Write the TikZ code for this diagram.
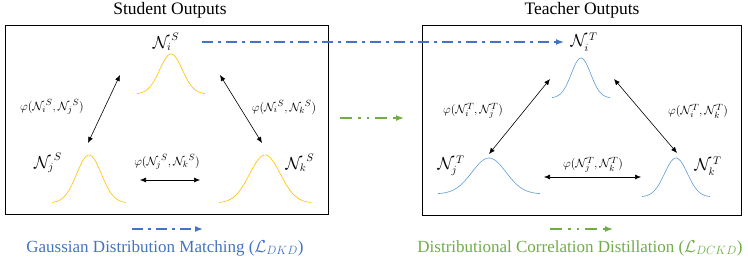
\documentclass[tikz,border=0pt]{standalone}
\usepackage{fontspec}
\setmainfont{Liberation Serif}
\usetikzlibrary{arrows.meta}
\definecolor{lblue}{HTML}{4472C4}
\definecolor{lgreen}{HTML}{70AD47}
\definecolor{corange}{HTML}{FFC000}
\definecolor{cblue}{HTML}{5B9BD5}
\newcommand\gausscurve[6]{% cx, halfwidth, peaky, basey, color
  \draw[#5,line width=0.6pt] plot[domain=-3:3,samples=60,smooth] ({#1+#2*\x/3},{#4-(#4-#3)*exp(-\x*\x/2)+#6});}
\tikzset{
  boxst/.style={draw,line width=1.2pt},
  titlest/.style={font=\fontsize{17.5}{20}\selectfont},
  legst/.style={font=\fontsize{17}{20}\selectfont,inner sep=0pt},
  lblst/.style={font=\fontsize{16}{19}\selectfont,inner sep=0pt},
  philbl/.style={font=\fontsize{12.5}{15}\selectfont,inner sep=0pt},
  rel/.style={{Latex[length=6pt,width=5pt]}-{Latex[length=6pt,width=5pt]},line width=0.6pt},
  bluearr/.style={-{Latex[length=8pt,width=6pt]},lblue,line width=1.5pt,dash pattern=on 11pt off 5pt on 3pt off 5pt},
  greenarr/.style={-{Latex[length=8pt,width=6pt]},lgreen,line width=1.5pt,dash pattern=on 12pt off 6pt on 2.5pt off 6pt on 2.5pt off 6pt},
}
\begin{document}
\begin{tikzpicture}[x=1pt,y=-1pt]
\useasboundingbox (0,0) rectangle (748,265);
% boxes
\node[boxst,minimum width=323pt,minimum height=189pt,inner sep=0pt,anchor=north west] (sbox) at (5,25) {};
\node[boxst,minimum width=319pt,minimum height=190pt,inner sep=0pt,anchor=north west] (tbox) at (422,25) {};
\node[titlest] (stitle) at (170,10) {Student Outputs};
\node[titlest] (ttitle) at (582,10) {Teacher Outputs};
% student curves
\gausscurve{171}{34}{54}{94}{corange}{0}
\gausscurve{89}{37}{155}{203}{corange}{0}
\gausscurve{265}{46}{155}{203}{corange}{0}
% teacher curves
\gausscurve{581}{29}{58}{98}{cblue}{0}
\gausscurve{489}{51}{158}{194}{cblue}{0}
\gausscurve{676}{34}{158}{197}{cblue}{0}
% labels
\node[lblst] (nis) at (166,42) {${\mathcal{N}_i}^{S}$};
\node[lblst] (njs) at (48,163) {${\mathcal{N}_j}^{S}$};
\node[lblst] (nks) at (300,163) {${\mathcal{N}_k}^{S}$};
\node[lblst] (nit) at (584,42) {$\mathcal{N}_i^{\,T}$};
\node[lblst] (njt) at (451,166) {$\mathcal{N}_j^{\,T}$};
\node[lblst] (nkt) at (708,166) {$\mathcal{N}_k^{\,T}$};
\node[philbl] (pijs) at (52,107) {$\varphi({\mathcal{N}_i}^{S},{\mathcal{N}_j}^{S})$};
\node[philbl] (piks) at (284,107) {$\varphi({\mathcal{N}_i}^{S},{\mathcal{N}_k}^{S})$};
\node[philbl] (pjks) at (167,162) {$\varphi({\mathcal{N}_j}^{S},{\mathcal{N}_k}^{S})$};
\node[philbl] (pijt) at (473,111) {$\varphi(\mathcal{N}_i^{T},\mathcal{N}_j^{T})$};
\node[philbl] (pikt) at (698,111) {$\varphi(\mathcal{N}_i^{T},\mathcal{N}_k^{T})$};
\node[philbl] (pjkt) at (593,165) {$\varphi(\mathcal{N}_j^{T},\mathcal{N}_k^{T})$};
% arrow endpoints
\coordinate (s1a) at (120,75); \coordinate (s1b) at (88,143);
\coordinate (s2a) at (220,75); \coordinate (s2b) at (262,143);
\coordinate (s3a) at (140,180); \coordinate (s3b) at (200,180);
\coordinate (t1a) at (550,79); \coordinate (t1b) at (489,154);
\coordinate (t2a) at (614,79); \coordinate (t2b) at (677,153);
\coordinate (t3a) at (544,177); \coordinate (t3b) at (641,177);
\draw[rel] (s1a) -- (s1b);
\draw[rel] (s2a) -- (s2b);
\draw[rel] (s3a) -- (s3b);
\draw[rel] (t1a) -- (t1b);
\draw[rel] (t2a) -- (t2b);
\draw[rel] (t3a) -- (t3b);
% cross arrows
\coordinate (ba) at (202,42); \coordinate (bb) at (564,42);
\draw[bluearr] (ba) -- (bb);
\coordinate (ga) at (340,118); \coordinate (gb) at (404,118);
\draw[greenarr] (ga) -- (gb);
% legend
\coordinate (lba) at (132,229); \coordinate (lbb) at (203,229);
\draw[bluearr] (lba) -- (lbb);
\coordinate (lga) at (550,229); \coordinate (lgb) at (613,229);
\draw[greenarr] (lga) -- (lgb);
\node[legst,text=lblue] (lbt) at (165,248) {Gaussian Distribution Matching ($\mathcal{L}_{DKD}$)};
\node[legst,text=lgreen] (lgt) at (580,248) {Distributional Correlation Distillation ($\mathcal{L}_{DCKD}$)};
\end{tikzpicture}
\end{document}
